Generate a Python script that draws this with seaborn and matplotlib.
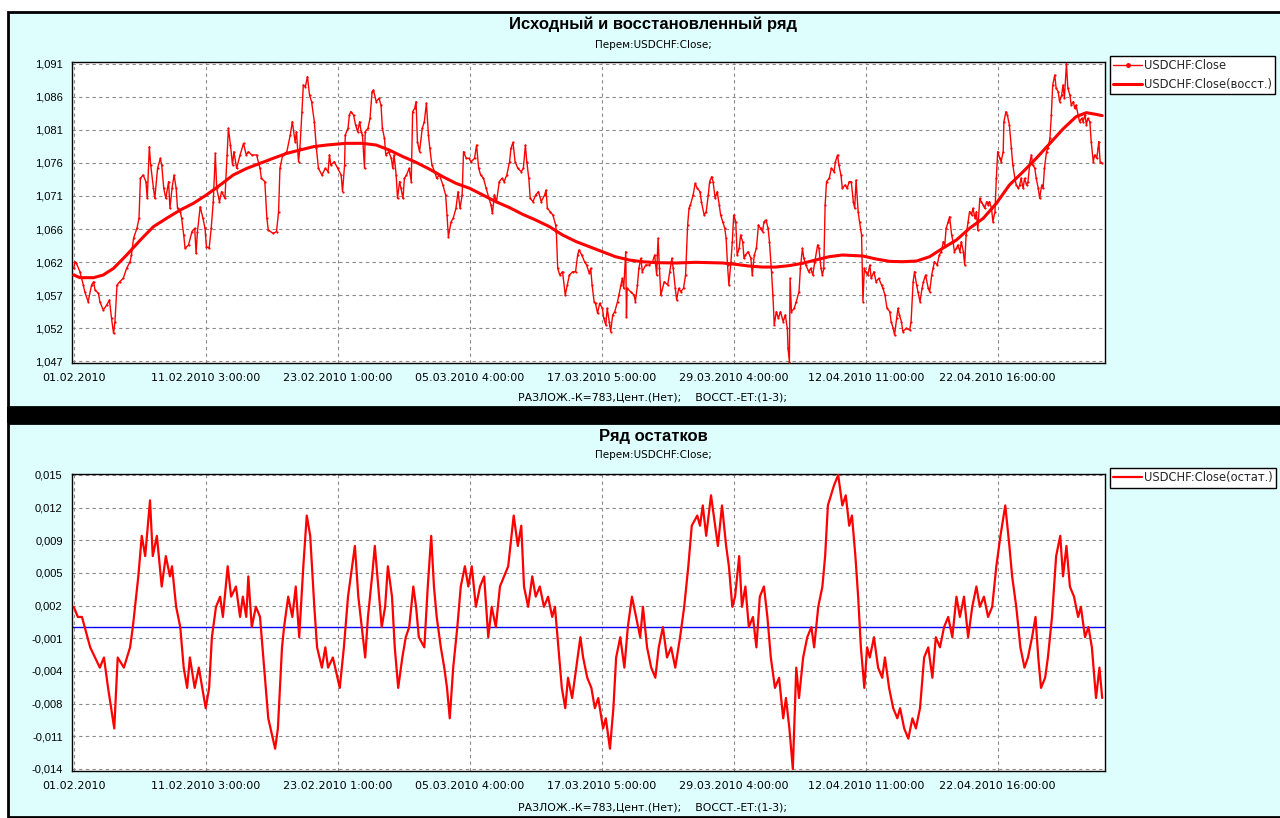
import numpy as np
import pandas as pd
import matplotlib
matplotlib.use("Agg")
import matplotlib.pyplot as plt
import seaborn as sns
from matplotlib.patches import Rectangle
from matplotlib.lines import Line2D

# ---------------- data (hour index along the series, value) ----------------
close_x = [0, 2, 4, 9, 14, 16, 21, 26, 29, 31, 36, 38, 43, 48, 52, 55, 58, 60, 63, 67, 72, 77, 82, 84, 87, 92, 95, 97,
           101, 105, 107, 110, 112, 116, 118, 122, 126, 128, 131, 134, 138, 140, 143, 146, 149, 151, 155, 157, 160, 162,
           167, 172, 176, 178, 180, 184, 188, 191, 193, 197, 200, 203, 206, 208, 212, 215, 220, 223, 225, 228, 231, 233,
           237, 242, 247, 251, 254, 259, 266, 271, 273, 278, 281, 283, 290, 295, 298, 300, 304, 310, 315, 318, 322, 324,
           327, 329, 332, 334, 337, 340, 343, 346, 350, 353, 356, 361, 366, 370,
           372, 374, 379, 384, 389, 391, 394, 395, 399, 401, 403, 407, 410, 413, 416, 418, 420, 423, 424, 428, 431, 434,
           436, 440, 444, 447, 449, 452, 454, 458, 462, 464, 466, 469, 471, 474, 476, 479, 481, 484, 488, 491, 493, 496,
           498, 500, 503, 507, 510, 513, 516, 518, 521, 525, 528, 532, 537, 541, 543, 545, 549, 552, 556, 559, 562, 565,
           567, 571, 575, 578, 583, 586, 589, 592, 596, 600, 604, 607, 609, 612, 615, 619, 623, 626, 630, 634, 636, 639,
           642, 646, 651, 654, 657, 659, 662, 664, 668, 672, 676, 680, 685, 687, 689, 693, 697, 701, 702, 704, 707, 711,
           715, 718, 721, 726, 730, 733, 735, 739, 743, 746, 750,
           752, 754, 757, 759, 762, 765, 769, 771, 774, 776, 779, 781, 784, 787, 791, 793, 796, 798, 800, 803, 804, 805,
           810, 815, 817, 820, 822, 825, 827, 832, 837, 842, 845, 848, 849, 850, 852, 854, 859, 864, 867, 870, 872, 875,
           877, 880, 883, 887, 890, 893, 895, 897, 901, 904, 907, 911, 913, 917, 920, 923, 925, 928, 930, 933, 936, 939,
           941, 944, 947, 949, 951, 953, 956, 958, 960, 963, 965, 968, 970, 973, 975, 977, 981, 985, 987, 990, 993, 996,
           999, 1002, 1004, 1007, 1010, 1012, 1015, 1017, 1019, 1022, 1025, 1028, 1032, 1035, 1038, 1039, 1041, 1042, 1044,
           1048, 1051, 1055, 1057, 1060, 1062, 1065, 1069, 1072, 1075, 1078, 1082, 1084, 1087, 1089, 1091, 1093, 1095,
           1099, 1102, 1106, 1108, 1111, 1113, 1116, 1118, 1122, 1125, 1128,
           1131, 1134, 1136, 1138, 1141, 1143, 1146, 1148, 1150, 1152, 1155, 1158, 1160, 1164, 1167, 1171, 1175, 1177,
           1180, 1183, 1187, 1189, 1192, 1194, 1197, 1199, 1201, 1204, 1206, 1211, 1216, 1218, 1221, 1223, 1226, 1228,
           1231, 1234, 1236, 1239, 1243, 1245, 1248, 1250, 1252, 1256, 1259, 1262, 1265, 1267, 1269, 1272, 1274, 1277,
           1279, 1281, 1284, 1286, 1289, 1291, 1294, 1296, 1298, 1301, 1303, 1306, 1308, 1311, 1313, 1315, 1318, 1320,
           1323, 1325, 1328, 1330, 1332, 1335, 1337, 1340, 1342, 1344, 1347, 1349, 1352, 1353, 1356, 1358, 1361, 1364,
           1366, 1369, 1371, 1374, 1376, 1378, 1381, 1383, 1386, 1388, 1391, 1393, 1395, 1398, 1400, 1403, 1405, 1408,
           1410, 1412, 1415, 1417, 1420, 1422, 1424, 1427, 1429, 1432, 1434, 1437, 1439, 1441, 1444, 1446, 1449, 1451,
           1454, 1456, 1458, 1461, 1463, 1466, 1468, 1471, 1473, 1475, 1478, 1480, 1483, 1485, 1488, 1490, 1491, 1493, 1496]
close_y = [1.06075, 1.06173, 1.06149, 1.06026, 1.05829, 1.05730, 1.05583, 1.05829, 1.05878, 1.05755, 1.05706, 1.05583,
           1.05460, 1.05533, 1.05607, 1.05336, 1.05115, 1.05287, 1.05829, 1.05878, 1.05927, 1.06075, 1.06173, 1.06272,
           1.06518, 1.06666, 1.06814, 1.07405, 1.07454, 1.07356, 1.07109, 1.07873, 1.07602, 1.07257, 1.07109, 1.07553,
           1.07700, 1.07602, 1.07257, 1.07109, 1.07356, 1.06962, 1.07257, 1.07454, 1.07257, 1.06962, 1.06912, 1.06814,
           1.06568, 1.06371, 1.06420, 1.06617, 1.06666, 1.06297, 1.06617, 1.06986, 1.06814, 1.06666, 1.06395, 1.06371,
           1.06666, 1.07060, 1.07774, 1.07257, 1.07060, 1.07208, 1.07109, 1.07750, 1.08144, 1.07897, 1.07602, 1.07799,
           1.07553, 1.07750, 1.07922, 1.07750, 1.07799, 1.07750, 1.07750, 1.07553, 1.07405, 1.07356, 1.06814, 1.06641,
           1.06592, 1.06617, 1.06912, 1.07553, 1.07750, 1.07799, 1.08045, 1.08242, 1.07947, 1.08094, 1.07651, 1.07848,
           1.08390, 1.08784, 1.08759, 1.08907, 1.08636, 1.08538, 1.08242, 1.07848, 1.07553, 1.07454, 1.07553, 1.07503,
           1.07750, 1.07602, 1.07651, 1.07553, 1.07454, 1.07208, 1.07602, 1.08045, 1.08144, 1.08341, 1.08390, 1.08341,
           1.08193, 1.08094, 1.08242, 1.08094, 1.08045, 1.07553, 1.08094, 1.08144, 1.08291, 1.08685, 1.08710, 1.08538,
           1.08587, 1.08488, 1.08144, 1.07996, 1.07750, 1.07799, 1.07700, 1.07553, 1.07750, 1.07454, 1.07109, 1.07356,
           1.07257, 1.07109, 1.07405, 1.07454, 1.07553, 1.07356, 1.08390, 1.08439, 1.08538, 1.07947, 1.07799, 1.08144,
           1.08242, 1.08513, 1.08045, 1.07848, 1.07602, 1.07503, 1.07405, 1.07454, 1.07306, 1.07159, 1.06863, 1.06543,
           1.06764, 1.06814, 1.06962, 1.07208, 1.06962, 1.07159, 1.07799, 1.07700, 1.07700, 1.07651, 1.07700, 1.07897,
           1.07553, 1.07454, 1.07405, 1.07257, 1.07109, 1.07011, 1.06888, 1.07159, 1.07060, 1.07356, 1.07405, 1.07356,
           1.07454, 1.07651, 1.07848, 1.07937, 1.07651, 1.07553, 1.07503, 1.07553, 1.07897, 1.07651, 1.07405, 1.07109,
           1.07060, 1.07159, 1.07208, 1.07060, 1.07159, 1.07232, 1.06962, 1.06912, 1.06863, 1.06715, 1.06617, 1.06075,
           1.05977, 1.06026, 1.05681, 1.05829, 1.05977, 1.06026, 1.06026, 1.06272, 1.06346, 1.06272, 1.06173, 1.06124,
           1.06001,
           1.06075, 1.05829, 1.05583, 1.05558, 1.05410, 1.05558, 1.05484, 1.05336, 1.05238, 1.05484, 1.05287, 1.05139,
           1.05386, 1.05435, 1.05583, 1.05681, 1.05829, 1.05927, 1.05780, 1.06321, 1.05361, 1.05780, 1.05730, 1.05681,
           1.05583, 1.05829, 1.06075, 1.06223, 1.06026, 1.06124, 1.06124, 1.06173, 1.06272, 1.05977, 1.06272, 1.06518,
           1.06075, 1.05681, 1.05878, 1.05829, 1.06026, 1.06223, 1.06075, 1.05780, 1.05607, 1.05780, 1.05730, 1.05780,
           1.05977, 1.06715, 1.06962, 1.07011, 1.07159, 1.07331, 1.07257, 1.07208, 1.07060, 1.06863, 1.06912, 1.07159,
           1.07356, 1.07429, 1.07356, 1.07109, 1.07208, 1.07011, 1.06863, 1.06764, 1.06666, 1.06518, 1.06124, 1.05829,
           1.06173, 1.06469, 1.06863, 1.06764, 1.06272, 1.06371, 1.06568, 1.06469, 1.06223, 1.06272, 1.06321, 1.06223,
           1.05977, 1.06272, 1.06371, 1.06715, 1.06666, 1.06617, 1.06764, 1.06789, 1.06666, 1.06469, 1.06026, 1.05681,
           1.05238, 1.05435, 1.05336, 1.05435, 1.05287, 1.05386, 1.05189, 1.04893, 1.04696, 1.05927, 1.05435, 1.05484,
           1.05583, 1.05730, 1.06075, 1.06371, 1.06223, 1.06124, 1.06026, 1.06075, 1.05977, 1.06173, 1.06420, 1.06371,
           1.06075, 1.05977, 1.06075, 1.07011, 1.07356, 1.07405, 1.07553, 1.07503, 1.07651, 1.07750, 1.07602, 1.07454,
           1.07257, 1.07306, 1.07257, 1.07356,
           1.07356, 1.07060, 1.06962, 1.07380, 1.06912, 1.06764, 1.06568, 1.05583, 1.06075, 1.06026, 1.05977, 1.06124,
           1.05927, 1.06026, 1.05878, 1.05927, 1.05829, 1.05780, 1.05681, 1.05484, 1.05435, 1.05287, 1.05189, 1.05090,
           1.05336, 1.05484, 1.05386, 1.05287, 1.05139, 1.05189, 1.05164, 1.05287, 1.05878, 1.06026, 1.05829, 1.05730,
           1.05583, 1.05780, 1.05878, 1.05977, 1.05780, 1.05730, 1.05977, 1.06075, 1.06173, 1.06124, 1.06272, 1.06321,
           1.06469, 1.06420, 1.06666, 1.06764, 1.06838, 1.06568, 1.06469, 1.06321, 1.06371, 1.06420, 1.06321, 1.06469,
           1.06321, 1.06124, 1.06568, 1.06764, 1.06912, 1.06863, 1.06962, 1.06814, 1.06912, 1.06641, 1.07109, 1.07060,
           1.07011, 1.06962, 1.07060, 1.07011, 1.07060, 1.06962, 1.06764, 1.06912, 1.07405, 1.07799, 1.07700, 1.07651,
           1.07799, 1.08242, 1.08390, 1.08341, 1.08193, 1.07848, 1.07602, 1.07405, 1.07306, 1.07257, 1.07306, 1.07405,
           1.07257, 1.07405, 1.07306, 1.07356, 1.07651, 1.07750, 1.07602, 1.07553, 1.07405, 1.07257, 1.07109, 1.07306,
           1.07257, 1.07553, 1.07799, 1.07848, 1.07996, 1.08341, 1.08784, 1.08932, 1.08735, 1.08685, 1.08538, 1.08636,
           1.08784, 1.08587, 1.09100, 1.08735, 1.08636, 1.08488, 1.08538, 1.08439, 1.08488, 1.08341, 1.08242, 1.08291,
           1.08242, 1.08341, 1.08193, 1.08291, 1.08242, 1.07947, 1.07651, 1.07750, 1.07700, 1.07848, 1.07947, 1.07651,
           1.07626]

rest_x = [0, 9, 29, 43, 58, 77, 97, 116, 135, 155, 174, 193, 213, 232, 252, 271, 290, 310, 329, 349, 368, 396, 420, 440,
          459, 479, 498, 517, 537, 556, 576, 595, 614, 634, 653, 672, 692, 711, 731, 750, 769, 788, 808, 827, 847, 876,
          905, 944, 963, 982, 1002, 1021, 1040, 1060, 1079, 1099, 1118, 1148, 1167, 1187, 1206, 1226, 1245, 1264, 1284,
          1303, 1323, 1342, 1361, 1381, 1400, 1420, 1439, 1458, 1473, 1487, 1496]
rest_y = [1.05977, 1.05937, 1.05937, 1.05977, 1.06075, 1.06272, 1.06494, 1.06691, 1.06814, 1.06937, 1.07035, 1.07159,
          1.07306, 1.07454, 1.07553, 1.07626, 1.07700, 1.07774, 1.07823, 1.07873, 1.07897, 1.07922, 1.07922, 1.07897,
          1.07823, 1.07725, 1.07641, 1.07543, 1.07429, 1.07331, 1.07257, 1.07159, 1.07060, 1.06972, 1.06873, 1.06789,
          1.06691, 1.06568, 1.06469, 1.06395, 1.06321, 1.06247, 1.06198, 1.06173, 1.06159, 1.06154, 1.06164, 1.06154,
          1.06134, 1.06109, 1.06094, 1.06094, 1.06114, 1.06149, 1.06198, 1.06247, 1.06272, 1.06257, 1.06213, 1.06178,
          1.06173, 1.06183, 1.06247, 1.06371, 1.06494, 1.06666, 1.06814, 1.07035, 1.07306, 1.07503, 1.07700, 1.07922,
          1.08134, 1.08316, 1.08375, 1.08350, 1.08331]

resid_x = [0, 6, 12, 24, 38, 44, 50, 59, 64, 73, 82, 86, 94, 99, 104, 111, 115, 121, 128, 134, 140, 143, 149, 155,
           160, 165, 169, 176, 182, 192, 197, 201, 207, 213, 217, 224, 229, 236, 242, 246, 251, 254, 259, 265, 271,
           277, 283, 293, 297, 303, 306, 312, 318, 323, 328, 334, 339, 344, 350, 354, 361, 366, 370, 377, 387, 393,
           399, 405, 409, 414, 419, 424, 428, 434, 438, 443, 448, 453, 457, 463, 467, 472, 478, 483, 488, 494, 498,
           502, 510, 515, 520, 524, 528, 534, 539, 543, 547, 552, 558, 563, 569, 574, 579, 585, 591, 597, 603, 608,
           614, 620, 626, 632, 640, 646, 651, 655, 661, 667, 672, 678, 684, 690, 696, 700, 705, 710, 715, 719, 725,
           731, 737, 741, 747, 753, 758, 763, 770, 774, 780, 785, 789, 795, 801, 806, 812, 818, 824, 828, 834, 840,
           846, 851, 857, 863, 869, 875, 882, 888, 894, 899, 907, 911, 915, 920, 927, 933, 937, 943, 949, 953, 958,
           962, 968, 972, 977, 982, 988, 993, 998, 1004, 1009, 1014, 1020, 1026, 1032, 1036, 1041, 1046, 1051, 1055,
           1061, 1067, 1073, 1077, 1083, 1089, 1093, 1097, 1106, 1112, 1118, 1123, 1128, 1132, 1137, 1141, 1145,
           1150, 1154, 1158, 1164, 1170, 1176, 1180, 1186, 1192, 1198, 1202, 1208, 1214, 1220, 1225, 1231, 1237,
           1243, 1249, 1254, 1260, 1266, 1272, 1278, 1284, 1289, 1295, 1301, 1307, 1313, 1318, 1324, 1330, 1336,
           1342, 1348, 1355, 1361, 1365, 1371, 1377, 1383, 1388, 1394, 1399, 1403, 1407, 1413, 1417, 1423, 1429,
           1435, 1439, 1444, 1449, 1455, 1461, 1465, 1471, 1476, 1481, 1487, 1492, 1496]
resid_y = [0.0020, 0.0010, 0.0010, -0.0020, -0.0040, -0.0030, -0.0060, -0.0100, -0.0030, -0.0040, -0.0020, 0.0000,
           0.0050, 0.0090, 0.0070, 0.0125, 0.0070, 0.0090, 0.0040, 0.0070, 0.0050, 0.0060, 0.0020, 0.0000, -0.0040,
           -0.0060, -0.0030, -0.0060, -0.0040, -0.0080, -0.0060, -0.0010, 0.0020, 0.0030, 0.0010, 0.0060, 0.0030,
           0.0040, 0.0010, 0.0030, 0.0010, 0.0050, 0.0000, 0.0020, 0.0010, -0.0040, -0.0090, -0.0120, -0.0100,
           -0.0020, 0.0000, 0.0030, 0.0010, 0.0040, -0.0010, 0.0060, 0.0110, 0.0090, 0.0020, -0.0020, -0.0040,
           -0.0020, -0.0040, -0.0030, -0.0060, -0.0020, 0.0030, 0.0060, 0.0080, 0.0030, 0.0000, -0.0030, 0.0010,
           0.0050, 0.0080, 0.0040, 0.0000, 0.0020, 0.0060, 0.0030, -0.0020, -0.0060, -0.0030, -0.0010, 0.0000,
           0.0040, 0.0020, -0.0010, -0.0020, 0.0040, 0.0090, 0.0040, 0.0010, -0.0020, -0.0040, -0.0060, -0.0090,
           -0.0040, 0.0000, 0.0040, 0.0060, 0.0040, 0.0060, 0.0020, 0.0040, 0.0050, -0.0010, 0.0020, 0.0000,
           0.0040, 0.0050, 0.0060, 0.0110, 0.0080, 0.0100, 0.0040, 0.0020, 0.0050, 0.0030, 0.0040, 0.0020, 0.0030,
           0.0010, 0.0020, -0.0020, -0.0060, -0.0080, -0.0050, -0.0070, -0.0040, -0.0010, -0.0030, -0.0050,
           -0.0060, -0.0080, -0.0070, -0.0100, -0.0090, -0.0120, -0.0080, -0.0030, -0.0010, -0.0040, 0.0000,
           0.0030, 0.0010, -0.0010, 0.0020, -0.0020, -0.0040, -0.0050, -0.0020, 0.0000, -0.0030, -0.0020, -0.0040,
           -0.0010, 0.0020, 0.0060, 0.0100, 0.0110, 0.0100, 0.0120, 0.0090, 0.0130, 0.0100, 0.0080, 0.0120,
           0.0080, 0.0060, 0.0020, 0.0030, 0.0070, 0.0020, 0.0040, 0.0000, 0.0010, -0.0020, 0.0030, 0.0040,
           0.0010, -0.0030, -0.0060, -0.0050, -0.0090, -0.0070, -0.0100, -0.0140, -0.0040, -0.0070, -0.0030,
           -0.0010, 0.0000, -0.0020, 0.0020, 0.0040, 0.0070, 0.0120, 0.0140, 0.0150, 0.0120, 0.0130, 0.0100,
           0.0110, 0.0070, 0.0030, -0.0020, -0.0060, -0.0020, -0.0030, -0.0010, -0.0040, -0.0050, -0.0030,
           -0.0060, -0.0080, -0.0090, -0.0080, -0.0100, -0.0110, -0.0090, -0.0100, -0.0080, -0.0030, -0.0020,
           -0.0050, -0.0010, -0.0020, 0.0000, 0.0010, -0.0010, 0.0030, 0.0010, 0.0030, -0.0010, 0.0020, 0.0040,
           0.0020, 0.0030, 0.0010, 0.0020, 0.0060, 0.0090, 0.0120, 0.0080, 0.0050, 0.0020, -0.0020, -0.0040,
           -0.0030, -0.0010, 0.0010, -0.0030, -0.0060, -0.0050, -0.0030, 0.0010, 0.0070, 0.0090, 0.0050, 0.0080,
           0.0040, 0.0030, 0.0010, 0.0020, -0.0010, 0.0000, -0.0020, -0.0070, -0.0040, -0.0070]

x_tick_labels = ["01.02.2010", "11.02.2010 3:00:00", "23.02.2010 1:00:00", "05.03.2010 4:00:00",
                 "17.03.2010 5:00:00", "29.03.2010 4:00:00", "12.04.2010 11:00:00", "22.04.2010 16:00:00"]
x_tick_step = 192
top_ticks = [1.047, 1.091]
top_tick_labels = ["1,047", "1,052", "1,057", "1,062", "1,066", "1,071", "1,076", "1,081", "1,086", "1,091"]
bot_ticks = [-0.014, 0.015]
bot_tick_labels = ["-0,014", "-0,011", "-0,008", "-0,004", "-0,001", "0,002", "0,005", "0,009", "0,012", "0,015"]

title_top = "Исходный и восстановленный ряд"
title_bot = "Ряд остатков"
subtitle = "Перем:USDCHF:Close;"
footer = "РАЗЛОЖ.-К=783,Цент.(Нет);    ВОССТ.-ЕТ:(1-3);"
lab_close = "USDCHF:Close"
lab_rest = "USDCHF:Close(восст.)"
lab_resid = "USDCHF:Close(остат.)"

# ---------------- style ----------------
sns.set_style("white")
plt.rcParams["font.family"] = ["DejaVu Sans"]
SMALL = ["DejaVu Sans"]
BOLD = ["Liberation Sans", "DejaVu Sans"]

W, H = 1280, 818
fig = plt.figure(figsize=(W / 100, H / 100), dpi=100)
fig.patch.set_facecolor("white")


def fx(px):
    return px / W


def fy(py):
    return 1 - py / H


CYAN = "#DEFEFE"
fig.add_artist(Rectangle((fx(8), fy(407)), fx(1290 - 8), (407 - 12) / H, transform=fig.transFigure,
                         facecolor=CYAN, edgecolor="black", lw=2, zorder=0))
fig.add_artist(Rectangle((fx(8), fy(817)), fx(1290 - 8), (817 - 423) / H, transform=fig.transFigure,
                         facecolor=CYAN, edgecolor="black", lw=2, zorder=0))
fig.add_artist(Rectangle((fx(7), fy(423)), fx(1290 - 7), 16 / H, transform=fig.transFigure,
                         facecolor="black", edgecolor="none", zorder=0))

PX_PER_STEP = 132.0
idx_per_px = x_tick_step / PX_PER_STEP
x0_px = 73.7


def make_axes(top_px, bot_px):
    ax = fig.add_axes([fx(71.7), fy(bot_px), (1105 - 71.7) / W, (bot_px - top_px) / H])
    ax.set_facecolor("white")
    ax.set_xlim((71.7 - x0_px) * idx_per_px, (1105 - x0_px) * idx_per_px)
    for s in ax.spines.values():
        s.set_color("black")
        s.set_linewidth(1.0)
    ax.grid(True, color="#8a8a8a", linestyle=(0, (3, 3)), lw=0.8)
    ax.set_xticks(np.arange(len(x_tick_labels)) * x_tick_step)
    ax.set_xticklabels(x_tick_labels, fontfamily=SMALL)
    ax.tick_params(axis="both", direction="in", length=4, labelsize=8, colors="black", width=0.8)
    ax.tick_params(axis="x", pad=7.5)
    ax.tick_params(axis="y", pad=6.5)
    return ax


# ---------------- top panel ----------------
ax1 = make_axes(62, 363)
per_px1 = (top_ticks[1] - top_ticks[0]) / 297.8
ax1.set_ylim(top_ticks[0] - 1.6 * per_px1, top_ticks[1] + 1.6 * per_px1)
ax1.set_yticks(np.linspace(top_ticks[0], top_ticks[1], len(top_tick_labels)))
ax1.set_yticklabels(top_tick_labels, fontfamily=["Liberation Sans"], fontsize=8)

df_close = pd.DataFrame({"x": close_x, "y": close_y})
df_rest = pd.DataFrame({"x": rest_x, "y": rest_y})
sns.lineplot(data=df_close, x="x", y="y", ax=ax1, color="#ff0000", lw=1.0, marker="o", markersize=1.6,
             markeredgewidth=0, sort=False, estimator=None, legend=False, zorder=3)
sns.lineplot(data=df_rest, x="x", y="y", ax=ax1, color="#ff0000", lw=2.2, sort=False, estimator=None,
             legend=False, zorder=4)
ax1.set_xlabel("")
ax1.set_ylabel("")

# ---------------- bottom panel ----------------
ax2 = make_axes(474, 771)
per_px2 = (bot_ticks[1] - bot_ticks[0]) / 294.0
ax2.set_ylim(bot_ticks[0] - 2 * per_px2, bot_ticks[1] + 1 * per_px2)
ax2.set_yticks(np.linspace(bot_ticks[0], bot_ticks[1], len(bot_tick_labels)))
ax2.set_yticklabels(bot_tick_labels, fontfamily=["Liberation Sans"], fontsize=8)
ax2.axhline(0.0, color="#0000ff", lw=1.0, zorder=2)
df_resid = pd.DataFrame({"x": resid_x, "y": resid_y})
sns.lineplot(data=df_resid, x="x", y="y", ax=ax2, color="#ff0000", lw=1.6, sort=False, estimator=None,
             legend=False, zorder=3)
ax2.set_xlabel("")
ax2.set_ylabel("")

# ---------------- texts ----------------
for ty, txt, fs, fw, fam in [(24, title_top, 12, "bold", BOLD), (45, subtitle, 7.5, "normal", SMALL),
                             (397, footer, 7.8, "normal", SMALL), (436, title_bot, 12, "bold", BOLD),
                             (455, subtitle, 7.5, "normal", SMALL), (807, footer, 7.8, "normal", SMALL)]:
    fig.text(fx(653), fy(ty), txt, ha="center", va="center", fontsize=fs, fontweight=fw, color="black",
             fontfamily=fam)


# ---------------- legends ----------------
def add_legend(handles, labels, top_px):
    leg = fig.legend(handles, labels, loc="upper left", bbox_to_anchor=(fx(1110), fy(top_px)),
                     bbox_transform=fig.transFigure, frameon=True, fancybox=False, edgecolor="black",
                     facecolor="white", framealpha=1, borderpad=0.3, handlelength=2.5, handletextpad=0.15,
                     labelspacing=0.45, borderaxespad=0, numpoints=1,
                     prop={"family": SMALL, "size": 8.3})
    leg.get_frame().set_linewidth(1.0)
    return leg


add_legend([Line2D([], [], color="#ff0000", lw=1.0, marker="o", markersize=2.5),
            Line2D([], [], color="#ff0000", lw=2.2)], [lab_close, lab_rest], 56)
add_legend([Line2D([], [], color="#ff0000", lw=1.6)], [lab_resid], 468)

fig.savefig("out.png", dpi=100, facecolor=fig.get_facecolor())
